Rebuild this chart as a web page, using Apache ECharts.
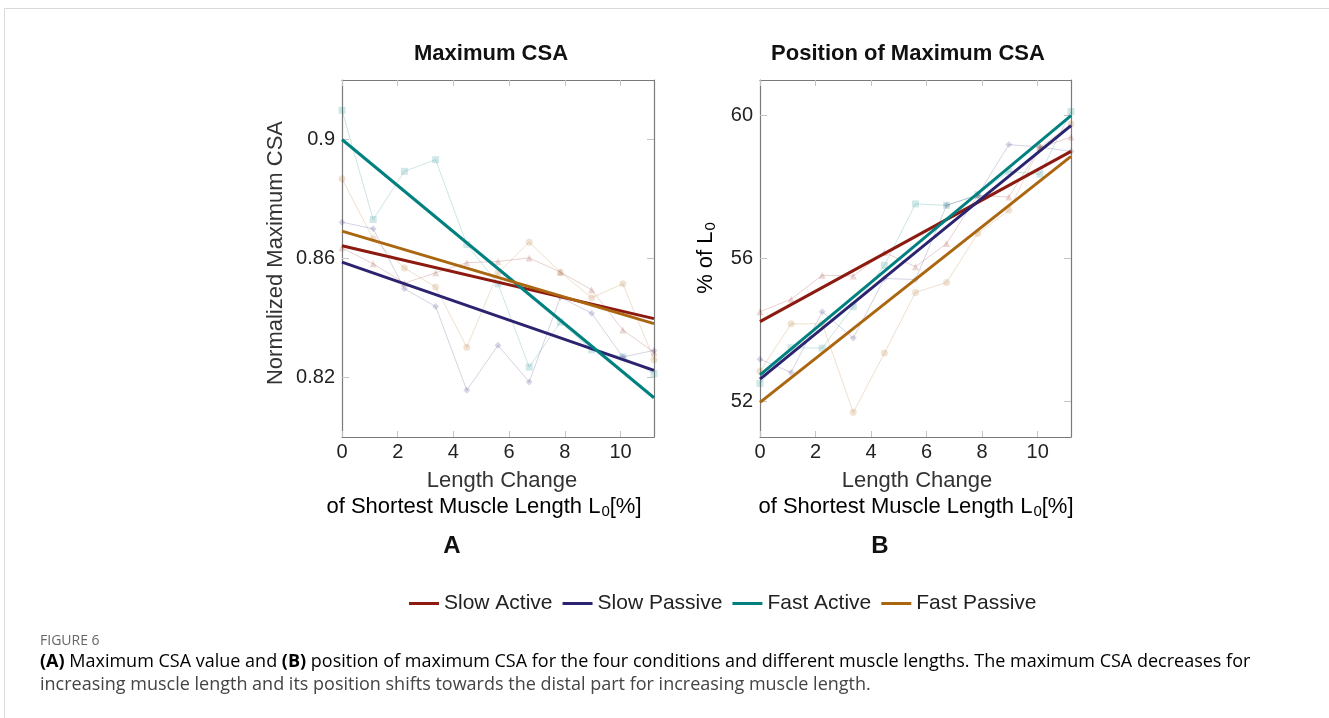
<!DOCTYPE html>
<html>
<head>
<meta charset="utf-8">
<script src="https://cdn.jsdelivr.net/npm/echarts@6/dist/echarts.min.js"></script>
<style>
  html, body { margin: 0; padding: 0; background: #fff; }
  #chart { width: 1329px; height: 718px; }
</style>
</head>
<body>
<div id="chart"></div>
<script>
// length change of shortest muscle length L0 [%]
const lengthChange = [0, 1.12, 2.24, 3.36, 4.48, 5.6, 6.72, 7.84, 8.96, 10.08, 11.2];
const seriesNames = ['Slow Active', 'Slow Passive', 'Fast Active', 'Fast Passive'];

// (A) normalized maximum CSA, raw points
const csaSlowActive  = [0.8636, 0.8582, 0.8517, 0.8552, 0.8586, 0.8590, 0.8602, 0.8554, 0.8495, 0.8360, 0.8285];
const csaSlowPassive = [0.8722, 0.8700, 0.8498, 0.8439, 0.8157, 0.8308, 0.8185, 0.8470, 0.8416, 0.8269, 0.8291];
const csaFastActive  = [0.9098, 0.8731, 0.8893, 0.8932, 0.8647, 0.8515, 0.8235, 0.8386, 0.8293, 0.8269, 0.8213];
const csaFastPassive = [0.8868, 0.8666, 0.8568, 0.8504, 0.8302, 0.8551, 0.8655, 0.8554, 0.8468, 0.8515, 0.8260];
// (A) linear fits, value at 0 and at 11.2
const csaFitStart = [0.8643, 0.8588, 0.9000, 0.8692];
const csaFitEnd   = [0.8398, 0.8224, 0.8132, 0.8381];

// (B) position of maximum CSA [% of L0], raw points
const posSlowActive  = [54.51, 54.86, 55.53, 55.51, 56.17, 55.77, 56.42, 57.77, 57.72, 59.10, 59.40];
const posSlowPassive = [53.18, 52.81, 54.51, 53.77, 55.44, 55.41, 57.49, 57.77, 59.19, 59.12, 59.00];
const posFastActive  = [52.50, 53.50, 53.49, 54.65, 55.81, 57.53, 57.49, 57.79, 58.44, 58.36, 60.12];
const posFastPassive = [52.84, 54.17, 54.17, 51.69, 53.35, 55.05, 55.33, 56.70, 57.35, 59.11, 59.77];
// (B) linear fits
const posFitStart = [54.23, 52.62, 52.74, 51.97];
const posFitEnd   = [59.00, 59.72, 60.00, 58.86];

// tick labels
const xTicks = [0, 2, 4, 6, 8, 10];
const csaTicks = [0.82, 0.86, 0.9];
const posTicks = [52, 56, 60];

const colors = ['#8c1a10', '#2b2370', '#00807f', '#ab6610'];
const markers = ['triangle', 'diamond', 'rect', 'circle'];
const FONT = '"Liberation Sans", Arial, sans-serif';
const CAP_FONT = '"Open Sans", sans-serif';
const AXIS_GRAY = '#7a7a7a';

const csaRaw = [csaSlowActive, csaSlowPassive, csaFastActive, csaFastPassive];
const posRaw = [posSlowActive, posSlowPassive, posFastActive, posFastPassive];

function xAxisPair(grid) {
  const common = {
    type: 'value', gridIndex: grid, min: 0, max: 11.2,
    axisLine: { show: true, onZero: false, lineStyle: { color: AXIS_GRAY, width: 1.2 } },
    axisTick: { show: true, inside: true, length: 6, customValues: xTicks, lineStyle: { color: '#c4c4c4' } },
    splitLine: { show: false }
  };
  return [
    Object.assign({}, common, {
      position: 'bottom',
      axisLabel: { customValues: xTicks, margin: 5, fontSize: 20, fontFamily: FONT, color: '#222' }
    }),
    Object.assign({}, common, { position: 'top', axisLabel: { show: false } })
  ];
}

function yAxisPair(grid, min, max, ticks) {
  const common = {
    type: 'value', gridIndex: grid, min: min, max: max,
    axisLine: { show: true, onZero: false, lineStyle: { color: AXIS_GRAY, width: 1.2 } },
    axisTick: { show: true, inside: true, length: 7, customValues: ticks, lineStyle: { color: '#c4c4c4' } },
    splitLine: { show: false }
  };
  return [
    Object.assign({}, common, {
      position: 'left',
      axisLabel: {
        customValues: ticks, margin: 7, fontSize: 20, fontFamily: FONT, color: '#222',
        formatter: v => String(+v.toFixed(2))
      }
    }),
    Object.assign({}, common, { position: 'right', axisLabel: { show: false } })
  ];
}

function buildSeries(raw, fitStart, fitEnd, xIdx, yIdx) {
  const out = [];
  seriesNames.forEach((name, i) => {
    out.push({
      name: name, type: 'line', xAxisIndex: xIdx, yAxisIndex: yIdx,
      data: [[0, fitStart[i]], [11.2, fitEnd[i]]],
      symbol: 'none', z: 4, silent: true,
      itemStyle: { color: colors[i] },
      lineStyle: { color: colors[i], width: 3 }
    });
    out.push({
      name: name + ' data', type: 'line', xAxisIndex: xIdx, yAxisIndex: yIdx,
      data: lengthChange.map((x, k) => [x, raw[i][k]]),
      symbol: markers[i], symbolSize: 7, z: 2, silent: true,
      itemStyle: { color: colors[i], opacity: 0.18 },
      lineStyle: { color: colors[i], width: 1, opacity: 0.2 }
    });
  });
  return out;
}

const nameStyle = { fontSize: 22, fontFamily: FONT, color: '#333' };
const sub = { fontSize: 15, fontFamily: FONT, color: '#333', padding: [10, 0, 0, 1] };

const option = {
  animation: false,
  backgroundColor: '#fff',
  grid: [
    { left: 342, top: 80, width: 312, height: 357 },
    { left: 760, top: 80, width: 311, height: 357 }
  ],
  xAxis: [].concat(xAxisPair(0), xAxisPair(1)),
  yAxis: [].concat(yAxisPair(0, 0.8, 0.92, csaTicks), yAxisPair(1, 51, 61, posTicks)),
  legend: {
    data: seriesNames,
    left: 404, top: 588,
    icon: 'rect', itemWidth: 30, itemHeight: 3, itemGap: 10,
    textStyle: { fontSize: 21, fontFamily: FONT, color: '#222' },
    selectedMode: false
  },
  series: [].concat(
    buildSeries(csaRaw, csaFitStart, csaFitEnd, 0, 0),
    buildSeries(posRaw, posFitStart, posFitEnd, 2, 2)
  ),
  graphic: [
    // figure frame
    { type: 'rect', shape: { x: 4.5, y: 8.5, width: 1400, height: 800 }, style: { fill: 'none', stroke: '#d9d9d9', lineWidth: 1 }, silent: true },
    // panel titles
    { type: 'text', x: 491, y: 54, style: { text: 'Maximum CSA', font: 'bold 22px ' + FONT, fill: '#111', align: 'center', verticalAlign: 'middle' } },
    { type: 'text', x: 908, y: 54, style: { text: 'Position of Maximum CSA', font: 'bold 22px ' + FONT, fill: '#111', align: 'center', verticalAlign: 'middle' } },
    // y axis names
    { type: 'text', x: 276, y: 253, rotation: Math.PI / 2, style: { text: 'Normalized Maximum CSA', font: '22px ' + FONT, fill: '#333', align: 'center', verticalAlign: 'middle' } },
    { type: 'text', x: 706, y: 258, rotation: Math.PI / 2, style: {
        text: '{a|% of L}{s|0}', align: 'center', verticalAlign: 'middle',
        rich: { a: nameStyle, s: sub }
    } },
    // x axis names
    { type: 'text', x: 502, y: 481, style: { text: 'Length Change', font: '22px ' + FONT, fill: '#333', align: 'center', verticalAlign: 'middle' } },
    { type: 'text', x: 484, y: 507, style: {
        text: '{a|of Shortest Muscle Length}{a| L}{s|0}{a|[%]}', align: 'center', verticalAlign: 'middle',
        rich: { a: nameStyle, s: sub }
    } },
    { type: 'text', x: 917, y: 481, style: { text: 'Length Change', font: '22px ' + FONT, fill: '#333', align: 'center', verticalAlign: 'middle' } },
    { type: 'text', x: 916, y: 507, style: {
        text: '{a|of Shortest Muscle Length}{a| L}{s|0}{a|[%]}', align: 'center', verticalAlign: 'middle',
        rich: { a: nameStyle, s: sub }
    } },
    // panel letters
    { type: 'text', x: 452, y: 546, style: { text: 'A', font: 'bold 24px ' + FONT, fill: '#111', align: 'center', verticalAlign: 'middle' } },
    { type: 'text', x: 880, y: 546, style: { text: 'B', font: 'bold 24px ' + FONT, fill: '#111', align: 'center', verticalAlign: 'middle' } },
    // caption
    { type: 'text', x: 40, y: 641, style: { text: 'FIGURE 6', font: '14px ' + CAP_FONT, fill: '#666', verticalAlign: 'middle' } },
    { type: 'text', x: 40, y: 662, style: {
        text: '{b|(A)}{r| Maximum CSA value and }{b|(B)}{r| position of maximum CSA for the four conditions and different muscle lengths. The maximum CSA decreases for}',
        verticalAlign: 'middle',
        rich: {
          b: { fontSize: 18, fontWeight: 'bold', fontFamily: CAP_FONT, color: '#444' },
          r: { fontSize: 18, fontFamily: CAP_FONT, color: '#444' }
        }
    } },
    { type: 'text', x: 40, y: 685, style: {
        text: 'increasing muscle length and its position shifts towards the distal part for increasing muscle length.',
        font: '18px ' + CAP_FONT, fill: '#444', verticalAlign: 'middle'
    } }
  ]
};

const myChart = echarts.init(document.getElementById('chart'), null, { renderer: 'canvas' });
myChart.setOption(option);
</script>
</body>
</html>
